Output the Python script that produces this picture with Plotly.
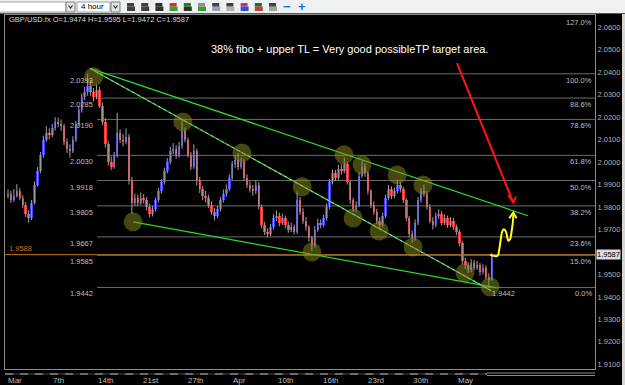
import plotly.graph_objects as go

# ------------------------------------------------------------------ data
first_open = 1.9850
closes = [1.9860,1.9830,1.9850,1.9870,1.9840,1.9810,1.9770,1.9750,1.9820,1.9900,
          1.9960,2.0030,2.0100,2.0130,2.0120,2.0150,2.0180,2.0170,2.0160,2.0090,
          2.0060,2.0050,2.0100,2.0170,2.0230,2.0290,2.0310,2.0340,2.0310,2.0290,
          2.0320,2.0250,2.0180,2.0080,2.0000,1.9980,2.0030,2.0130,2.0100,2.0090,
          2.0110,1.9920,1.9820,1.9840,1.9820,1.9840,1.9830,1.9800,1.9770,1.9790,
          1.9830,1.9870,1.9910,1.9960,2.0000,2.0050,2.0060,2.0030,2.0070,2.0140,
          2.0100,2.0030,1.9980,2.0050,1.9920,1.9880,1.9850,1.9840,1.9810,1.9780,
          1.9760,1.9790,1.9830,1.9860,1.9880,1.9930,1.9990,2.0010,1.9980,2.0000,
          1.9930,1.9900,1.9880,1.9870,1.9900,1.9800,1.9720,1.9690,1.9680,1.9710,
          1.9750,1.9760,1.9730,1.9750,1.9720,1.9700,1.9710,1.9690,1.9830,1.9780,
          1.9740,1.9710,1.9660,1.9630,1.9700,1.9730,1.9720,1.9750,1.9800,1.9910,
          1.9950,1.9930,1.9970,1.9960,1.9990,1.9910,1.9830,1.9790,1.9810,1.9940,
          1.9980,1.9950,1.9870,1.9810,1.9780,1.9740,1.9720,1.9760,1.9840,1.9880,
          1.9850,1.9870,1.9900,1.9880,1.9830,1.9750,1.9680,1.9660,1.9730,1.9830,
          1.9870,1.9860,1.9800,1.9740,1.9720,1.9760,1.9770,1.9730,1.9750,1.9720,
          1.9740,1.9710,1.9690,1.9640,1.9560,1.9540,1.9520,1.9550,1.9530,1.9540,
          1.9510,1.9530,1.9490,1.9474,1.9587]
highs = [1.9878,1.9872,1.9880,1.9902,1.9885,1.9852,1.9822,1.9785,1.9832,1.9915,
         1.9978,2.0045,2.0118,2.0160,2.0150,2.0170,2.0200,2.0198,2.0190,2.0170,
         2.0105,2.0080,2.0115,2.0182,2.0248,2.0305,2.0335,2.0393,2.0365,2.0330,
         2.0345,2.0335,2.0265,2.0195,2.0095,2.0025,2.0045,2.0220,2.0145,2.0125,
         2.0150,2.0125,1.9935,1.9860,1.9855,1.9865,1.9858,1.9845,1.9815,1.9805,
         1.9842,1.9885,1.9925,1.9975,2.0018,2.0068,2.0085,2.0075,2.0090,2.0190,
         2.0155,2.0110,2.0045,2.0080,2.0060,1.9935,1.9895,1.9872,1.9855,1.9825,
         1.9795,1.9805,1.9845,1.9878,1.9900,1.9945,2.0005,2.0028,2.0040,2.0020,
         2.0012,1.9945,1.9915,1.9898,1.9918,1.9910,1.9812,1.9735,1.9705,1.9725,
         1.9768,1.9785,1.9775,1.9770,1.9762,1.9735,1.9730,1.9722,1.9870,1.9845,
         1.9795,1.9755,1.9720,1.9672,1.9715,1.9748,1.9745,1.9765,1.9815,1.9925,
         1.9968,1.9965,1.9988,1.9990,2.0020,2.0000,1.9920,1.9842,1.9825,1.9955,
         2.0005,1.9995,1.9960,1.9880,1.9825,1.9792,1.9755,1.9775,1.9855,1.9898,
         1.9892,1.9888,1.9920,1.9912,1.9890,1.9840,1.9760,1.9695,1.9745,1.9845,
         1.9885,1.9900,1.9872,1.9812,1.9755,1.9775,1.9790,1.9782,1.9768,1.9762,
         1.9755,1.9752,1.9722,1.9700,1.9650,1.9575,1.9555,1.9568,1.9565,1.9560,
         1.9552,1.9545,1.9540,1.9505,1.9595]
lows = [1.9838,1.9818,1.9822,1.9842,1.9830,1.9795,1.9755,1.9730,1.9742,1.9812,
        1.9890,1.9950,2.0020,2.0090,2.0100,2.0110,2.0140,2.0155,2.0140,2.0075,
        2.0040,2.0020,2.0040,2.0090,2.0160,2.0220,2.0275,2.0295,2.0295,2.0270,
        2.0280,2.0240,2.0165,2.0065,1.9985,1.9965,1.9970,2.0020,2.0085,2.0070,
        2.0080,1.9900,1.9770,1.9805,1.9805,1.9810,1.9815,1.9785,1.9755,1.9758,
        1.9780,1.9820,1.9860,1.9900,1.9950,1.9990,2.0035,2.0015,2.0020,2.0060,
        2.0088,2.0020,1.9965,1.9970,1.9895,1.9862,1.9830,1.9820,1.9795,1.9765,
        1.9740,1.9750,1.9780,1.9820,1.9845,1.9870,1.9920,1.9975,1.9965,1.9970,
        1.9920,1.9885,1.9865,1.9850,1.9858,1.9790,1.9705,1.9675,1.9665,1.9670,
        1.9700,1.9738,1.9715,1.9720,1.9705,1.9685,1.9688,1.9678,1.9680,1.9765,
        1.9725,1.9695,1.9645,1.9605,1.9620,1.9690,1.9705,1.9710,1.9740,1.9790,
        1.9900,1.9915,1.9920,1.9945,1.9950,1.9900,1.9815,1.9778,1.9780,1.9800,
        1.9930,1.9935,1.9855,1.9795,1.9765,1.9725,1.9700,1.9710,1.9750,1.9830,
        1.9835,1.9840,1.9860,1.9865,1.9818,1.9738,1.9665,1.9640,1.9650,1.9720,
        1.9820,1.9845,1.9788,1.9728,1.9700,1.9710,1.9748,1.9718,1.9720,1.9708,
        1.9710,1.9698,1.9675,1.9625,1.9545,1.9525,1.9505,1.9510,1.9518,1.9520,
        1.9495,1.9500,1.9478,1.9442,1.9472]
opens = [first_open] + closes[:-1]
bar_idx = list(range(len(closes)))

symbol_text = "GBP/USD.fx O=1.9474 H=1.9595 L=1.9472 C=1.9587"
note_text = "38% fibo + upper TL = Very good possibleTP target area."

fib_pct_labels = ["127.0%", "100.0%", "88.6%", "78.6%", "61.8%", "50.0%", "38.2%", "23.6%", "15.0%", "0.0%"]
fib_levels = [2.0650, 2.0393, 2.0285, 2.0190, 2.0030, 1.9918, 1.9805, 1.9667, 1.9585, 1.9442]
fib_price_labels = ["", "2.0393", "2.0285", "2.0190", "2.0030", "1.9918", "1.9805", "1.9667", "1.9585", "1.9442"]
fib_start_idx = 30.2

date_labels = ["Mar", "7th", "14th", "21st", "27th", "Apr", "10th", "16th", "23rd", "30th", "May"]
date_pos = [-0.7, 14.6, 29.8, 45.1, 60.3, 75.6, 90.8, 106.1, 121.4, 136.6, 151.9]

price_ticks = [1.91, 1.92, 1.93, 1.94, 1.95, 1.97, 1.98, 1.99, 2.00, 2.01, 2.02, 2.03, 2.04, 2.05, 2.06]
last_price = 1.9587
bid_price = 1.9588
low_price = 1.9442
low_idx = 163.4

upper_tl_x = [27.8, 176.3]
upper_tl_y = [2.0417, 1.9761]
mid_tl_x = [27.8, 163.8]
mid_tl_y = [2.0417, 1.9428]
lower_tl_x = [42.4, 165.8]
lower_tl_y = [1.9734, 1.9440]

circle_x = [29.0, 42.4, 59.3, 79.3, 99.7, 103.0, 113.9, 117.0, 120.0, 125.8, 131.9, 137.3, 140.7, 154.9, 163.4]
circle_y = [2.0380, 1.9734, 2.0179, 2.0041, 1.9890, 1.9600, 2.0033, 1.9751, 1.9988, 1.9693, 1.9943, 1.9622, 1.9898, 1.9507, 1.9445]

squiggle_x = [163.4, 165.9, 166.5, 167.0, 167.5, 168.1, 168.8, 169.3, 169.6, 170.2, 170.7, 171.1, 171.3]
squiggle_y = [1.9587, 1.9582, 1.9609, 1.9653, 1.9690, 1.9701, 1.9690, 1.9661, 1.9650, 1.9657, 1.9690, 1.9728, 1.9765]
squiggle_head_x = [169.9, 171.3, 172.4]
squiggle_head_y = [1.9750, 1.9775, 1.9750]

red_arrow_x = [152.2, 171.3]
red_arrow_y = [2.0441, 1.9819]
red_head_x = [169.6, 171.3, 172.2]
red_head_y = [1.9854, 1.9819, 1.9846]

# ------------------------------------------------------------------ geometry
W, H = 625, 385
ML, MR, MT, MB = 5, 30, 15, 16
PW, PH = W - ML - MR, H - MT - MB
BAR_PX = 2.95
FIRST_PX = 8
x_min = -(FIRST_PX - ML) / BAR_PX
x_max = x_min + PW / BAR_PX
y_range = [1.90791, 2.06547]


def px_x(px):
    return (px - ML) / PW


def px_y(py):
    return 1 - (py - MT) / PH


FONT = "Liberation Sans, Arial, sans-serif"
LBL = "#bcbcbc"
GREEN = "#2ed82e"

fig = go.Figure()

# wicks
wx, wy = [], []
for i, hi, lo in zip(bar_idx, highs, lows):
    wx += [i, i, None]
    wy += [lo, hi, None]
fig.add_trace(go.Scatter(x=wx, y=wy, mode="lines", line=dict(color="#a0a0a0", width=1),
                         hoverinfo="skip", showlegend=False))

# bodies
body_base = [min(o, c) for o, c in zip(opens, closes)]
body_h = [max(abs(c - o), 0.0003) for o, c in zip(opens, closes)]
body_col = ["#3a3aff" if c >= o else "#ff2a2a" for o, c in zip(opens, closes)]
fig.add_trace(go.Bar(x=bar_idx, y=body_h, base=body_base, width=0.85,
                     marker=dict(color=body_col, line=dict(width=0)),
                     hoverinfo="skip", showlegend=False))

# trend lines
for tx, ty in [(upper_tl_x, upper_tl_y), (mid_tl_x, mid_tl_y), (lower_tl_x, lower_tl_y)]:
    fig.add_trace(go.Scatter(x=tx, y=ty, mode="lines", line=dict(color=GREEN, width=1.2),
                             hoverinfo="skip", showlegend=False))
# fibo diagonal (dotted) lying on the middle trend line
fig.add_trace(go.Scatter(x=mid_tl_x, y=mid_tl_y, mode="lines",
                         line=dict(color="#c8c8c8", width=1, dash="dot"),
                         hoverinfo="skip", showlegend=False))

# highlight circles
fig.add_trace(go.Scatter(x=circle_x, y=circle_y, mode="markers",
                         marker=dict(size=19, color="rgba(140,140,30,0.5)", line=dict(width=0)),
                         hoverinfo="skip", showlegend=False))

# yellow projection squiggle
fig.add_trace(go.Scatter(x=squiggle_x, y=squiggle_y, mode="lines",
                         line=dict(color="#ffff1a", width=2, shape="spline"),
                         hoverinfo="skip", showlegend=False))
fig.add_trace(go.Scatter(x=squiggle_head_x, y=squiggle_head_y, mode="lines",
                         line=dict(color="#ffff1a", width=2), hoverinfo="skip", showlegend=False))

# red arrow
fig.add_trace(go.Scatter(x=red_arrow_x, y=red_arrow_y, mode="lines",
                         line=dict(color="#ff1414", width=2), hoverinfo="skip", showlegend=False))
fig.add_trace(go.Scatter(x=red_head_x, y=red_head_y, mode="lines",
                         line=dict(color="#ff1414", width=2), hoverinfo="skip", showlegend=False))

shapes = []
annos = []

# fibonacci levels
for lvl, pct, plab in zip(fib_levels, fib_pct_labels, fib_price_labels):
    if plab:
        shapes.append(dict(type="line", xref="x", yref="y", x0=fib_start_idx, x1=x_max,
                           y0=lvl, y1=lvl, line=dict(color="#6c6c6c", width=1), layer="below"))
        annos.append(dict(xref="x", yref="y", x=fib_start_idx - 0.6, y=lvl, text=plab,
                          xanchor="right", yanchor="top", showarrow=False,
                          font=dict(size=7.5, color=LBL, family=FONT)))
    annos.append(dict(xref="paper", yref="y", x=px_x(594), y=lvl, text=pct,
                      xanchor="right", yanchor="top", showarrow=False,
                      font=dict(size=7.5, color=LBL, family=FONT)))

# bid line (orange)
shapes.append(dict(type="line", xref="paper", yref="y", x0=0, x1=1, y0=bid_price, y1=bid_price,
                   line=dict(color="#c8741e", width=1), layer="below"))
annos.append(dict(xref="paper", yref="y", x=px_x(7), y=bid_price, text=f"{bid_price:.4f}",
                  xanchor="left", yanchor="bottom", showarrow=False,
                  font=dict(size=7.5, color="#c8741e", family=FONT)))
# last price box on the axis
annos.append(dict(xref="paper", yref="y", x=px_x(596), y=last_price, text=f"{last_price:.4f}",
                  xanchor="left", yanchor="middle", showarrow=False, bgcolor="#dcdcdc",
                  borderpad=0, font=dict(size=7.5, color="#000000", family=FONT)))
# swing-low label
annos.append(dict(xref="x", yref="y", x=low_idx, y=low_price, text=f"{low_price:.4f}",
                  xanchor="left", yanchor="top", showarrow=False,
                  font=dict(size=7.5, color=LBL, family=FONT)))

# date labels
for pos, lab in zip(date_pos, date_labels):
    annos.append(dict(xref="x", yref="paper", x=pos, y=px_y(380), text=lab, xanchor="left",
                      yanchor="middle", showarrow=False, font=dict(size=8, color=LBL, family=FONT)))

# header + note
annos.append(dict(xref="paper", yref="paper", x=px_x(7), y=px_y(19.5), text=symbol_text,
                  xanchor="left", yanchor="middle", showarrow=False,
                  font=dict(size=7.5, color="#d8d8d8", family=FONT)))
annos.append(dict(xref="paper", yref="paper", x=px_x(349), y=px_y(49), text=note_text,
                  xanchor="center", yanchor="middle", showarrow=False,
                  font=dict(size=11, color="#ffffff", family=FONT)))

# x-axis decoration (dashes / double line)
shapes.append(dict(type="line", xref="paper", yref="paper", x0=0, x1=px_x(487), y0=px_y(374), y1=px_y(374),
                   line=dict(color="#4a4a4a", width=1)))
shapes.append(dict(type="line", xref="paper", yref="paper", x0=0, x1=px_x(487), y0=px_y(374), y1=px_y(374),
                   line=dict(color="#b4b4b4", width=1, dash="8px,7px")))
for yy in (373, 375.5):
    shapes.append(dict(type="line", xref="paper", yref="paper", x0=px_x(487), x1=1, y0=px_y(yy), y1=px_y(yy),
                       line=dict(color="#8a8a8a", width=1)))

# window right edge
shapes.append(dict(type="rect", xref="paper", yref="paper", x0=px_x(622), x1=px_x(626),
                   y0=px_y(386), y1=px_y(13), fillcolor="#d6d6d6", line=dict(width=0)))

# toolbar
shapes.append(dict(type="rect", xref="paper", yref="paper", x0=px_x(-1), x1=px_x(626),
                   y0=px_y(13), y1=px_y(-1), fillcolor="#eef1f1", line=dict(width=0)))
shapes.append(dict(type="line", xref="paper", yref="paper", x0=px_x(0), x1=px_x(625),
                   y0=px_y(13.5), y1=px_y(13.5), line=dict(color="#555555", width=1)))
for bx0, bx1 in [(-1, 66), (77, 110)]:
    shapes.append(dict(type="rect", xref="paper", yref="paper", x0=px_x(bx0), x1=px_x(bx1),
                       y0=px_y(12), y1=px_y(2), fillcolor="#ffffff", line=dict(color="#9aa0a6", width=1)))
for bx0 in (66, 111):
    shapes.append(dict(type="rect", xref="paper", yref="paper", x0=px_x(bx0), x1=px_x(bx0 + 9),
                       y0=px_y(12), y1=px_y(2), fillcolor="#dfe3e6", line=dict(color="#7a8088", width=1)))
    shapes.append(dict(type="path", xref="paper", yref="paper",
                       path=f"M {px_x(bx0 + 2.5)},{px_y(5.5)} L {px_x(bx0 + 4.5)},{px_y(8)} L {px_x(bx0 + 6.5)},{px_y(5.5)}",
                       line=dict(color="#303030", width=1.2)))
annos.append(dict(xref="paper", yref="paper", x=px_x(79), y=px_y(7), text="4 hour", xanchor="left",
                  yanchor="middle", showarrow=False, font=dict(size=8, color="#000000", family=FONT)))
icon_cols = [("#404040", "#404040"), ("#404040", "#404040"), ("#303030", "#303030"), ("#d03030", "#30a030"),
             ("#208020", "#303030"), ("#909090", "#30a030"), ("#404060", "#a0a0a0"), ("#404040", "#b0b0b0"),
             ("#c03090", "#3050d0"), ("#306030", "#c04040"), ("#404040", "#a0a0a0")]
for k, (c1, c2) in enumerate(icon_cols):
    cx = 131 + 14.2 * k
    shapes.append(dict(type="rect", xref="paper", yref="paper", x0=px_x(cx - 4), x1=px_x(cx + 4),
                       y0=px_y(11), y1=px_y(6.5), fillcolor=c2, line=dict(width=0)))
    shapes.append(dict(type="rect", xref="paper", yref="paper", x0=px_x(cx - 4), x1=px_x(cx + 3),
                       y0=px_y(6.5), y1=px_y(3), fillcolor=c1, line=dict(width=0)))
annos.append(dict(xref="paper", yref="paper", x=px_x(287), y=px_y(6.5), text="<b>−</b>", xanchor="center",
                  yanchor="middle", showarrow=False, font=dict(size=13, color="#1e6fd9", family=FONT)))
annos.append(dict(xref="paper", yref="paper", x=px_x(301.5), y=px_y(6.5), text="<b>+</b>", xanchor="center",
                  yanchor="middle", showarrow=False, font=dict(size=13, color="#1e6fd9", family=FONT)))

fig.update_layout(
    width=W, height=H,
    margin=dict(l=ML, r=MR, t=MT, b=MB, pad=0),
    paper_bgcolor="#000000", plot_bgcolor="#000000",
    font=dict(family=FONT, color=LBL),
    showlegend=False, bargap=0,
    shapes=shapes, annotations=annos,
    xaxis=dict(range=[x_min, x_max], showgrid=False, zeroline=False, showticklabels=False,
               showline=True, linecolor="#8c8c8c", linewidth=1, mirror=True, ticks=""),
    yaxis=dict(range=y_range, side="right", showgrid=False, zeroline=False,
               tickmode="array", tickvals=price_ticks, ticktext=[f"{v:.4f}" for v in price_ticks],
               tickfont=dict(size=7.5, color="#b0b0b0", family=FONT), ticks="",
               showline=True, linecolor="#8c8c8c", linewidth=1, mirror=True),
)

fig.write_html("out.html")
